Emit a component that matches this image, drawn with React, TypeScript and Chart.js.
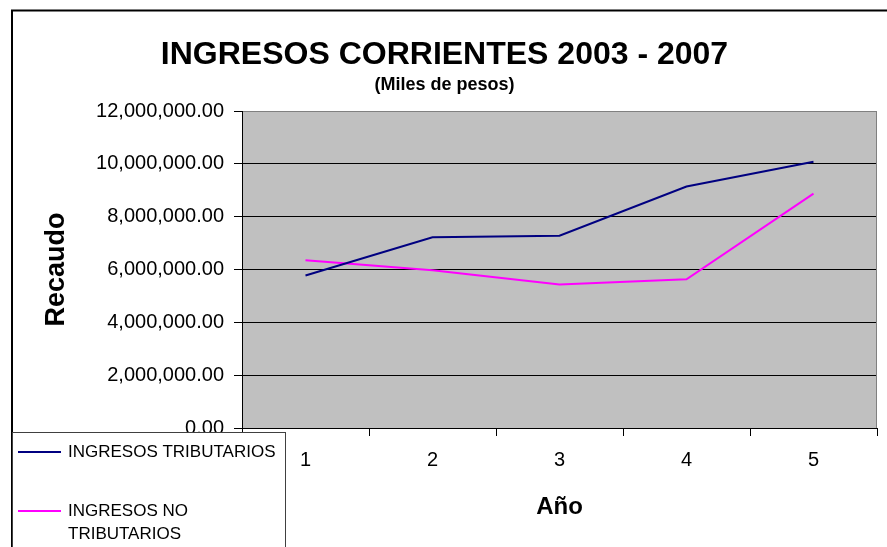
import React, { useEffect, useRef } from "react";
import { Chart, registerables } from "chart.js";

Chart.register(...registerables);

const TITLE = "INGRESOS CORRIENTES 2003 - 2007";
const SUBTITLE = "(Miles de pesos)";
const Y_TITLE = "Recaudo";
const X_TITLE = "Año";
const CATEGORIES = ["1", "2", "3", "4", "5"];
const SERIES_NAMES = ["INGRESOS TRIBUTARIOS", "INGRESOS NO TRIBUTARIOS"];
const TRIBUTARIOS = [5770000, 7220000, 7280000, 9140000, 10080000];
const NO_TRIBUTARIOS = [6350000, 5970000, 5430000, 5630000, 8870000];
const COLORS = ["#000080", "#FF00FF"];
const Y_MIN = 0;
const Y_MAX = 12000000;
const Y_STEP = 2000000;

const FONT = 'Arial, "Liberation Sans", sans-serif';

const framePlugin = {
  id: "frame",
  beforeDraw(chart: any) {
    const { ctx, chartArea } = chart;
    ctx.save();
    ctx.fillStyle = "#ffffff";
    ctx.fillRect(0, 0, chart.width, chart.height);
    ctx.fillStyle = "#C0C0C0";
    ctx.fillRect(chartArea.left, chartArea.top, chartArea.right - chartArea.left, chartArea.bottom - chartArea.top);
    ctx.strokeStyle = "#000000";
    ctx.lineWidth = 2;
    ctx.strokeRect(12, 10.5, chart.width + 20, chart.height + 20);
    ctx.restore();
  },
  afterDatasetsDraw(chart: any) {
    const { ctx, chartArea } = chart;
    ctx.save();
    ctx.strokeStyle = "#808080";
    ctx.lineWidth = 1;
    ctx.beginPath();
    ctx.moveTo(chartArea.right - 0.5, chartArea.top);
    ctx.lineTo(chartArea.right - 0.5, chartArea.bottom);
    ctx.stroke();
    ctx.restore();
  },
  afterDraw(chart: any) {
    const { ctx } = chart;
    ctx.save();
    // legend box
    ctx.fillStyle = "#ffffff";
    ctx.fillRect(12.5, 432.5, 273, 200);
    ctx.strokeStyle = "#404040";
    ctx.lineWidth = 1;
    ctx.strokeRect(12.5, 432.5, 273, 200);
    ctx.font = "17px " + FONT;
    ctx.fillStyle = "#000000";
    ctx.textBaseline = "middle";
    ctx.textAlign = "left";
    const rowYs = [452, 511];
    chart.data.datasets.forEach((ds: any, i: number) => {
      const y = rowYs[i];
      ctx.strokeStyle = ds.borderColor;
      ctx.lineWidth = 2;
      ctx.beginPath();
      ctx.moveTo(18, y);
      ctx.lineTo(61, y);
      ctx.stroke();
      const words = String(ds.label).split(" ");
      const lines: string[] = [];
      let cur = "";
      words.forEach((w) => {
        const test = cur ? cur + " " + w : w;
        if (ctx.measureText(test).width > 214 && cur) {
          lines.push(cur);
          cur = w;
        } else {
          cur = test;
        }
      });
      if (cur) lines.push(cur);
      lines.forEach((ln, j) => ctx.fillText(ln, 68, y + j * 23));
    });
    ctx.restore();
  },
};

export default function App() {
  const ref = useRef<HTMLCanvasElement | null>(null);
  useEffect(() => {
    if (!ref.current) return;
    const chart = new Chart(ref.current, {
      type: "line",
      data: {
        labels: CATEGORIES,
        datasets: [
          {
            label: SERIES_NAMES[0],
            data: TRIBUTARIOS,
            borderColor: COLORS[0],
            backgroundColor: COLORS[0],
            borderWidth: 2,
            pointRadius: 0,
            tension: 0,
          },
          {
            label: SERIES_NAMES[1],
            data: NO_TRIBUTARIOS,
            borderColor: COLORS[1],
            backgroundColor: COLORS[1],
            borderWidth: 2,
            pointRadius: 0,
            tension: 0,
          },
        ],
      },
      options: {
        animation: false,
        responsive: false,
        maintainAspectRatio: false,
        devicePixelRatio: 1,
        layout: { padding: { left: 12, top: 10, right: 10, bottom: 0 } },
        plugins: {
          legend: { display: false },
          tooltip: { enabled: false },
          title: {
            display: true,
            text: TITLE,
            color: "#000",
            font: { family: FONT, size: 32, weight: "bold", lineHeight: 1.2 },
            padding: { top: 26, bottom: 0 },
          },
          subtitle: {
            display: true,
            text: SUBTITLE,
            color: "#000",
            font: { family: FONT, size: 18, weight: "bold", lineHeight: 1.2 },
            padding: { top: 0, bottom: 15 },
          },
        },
        scales: {
          x: {
            type: "category",
            offset: true,
            grid: {
              display: true,
              offset: true,
              drawOnChartArea: false,
              drawTicks: true,
              tickLength: 8,
              color: "#000",
              lineWidth: 1,
            },
            border: { display: true, color: "#000", width: 1 },
            ticks: {
              color: "#000",
              font: { family: FONT, size: 20 },
              padding: 12,
              maxRotation: 0,
            },
            title: {
              display: true,
              text: X_TITLE,
              color: "#000",
              font: { family: FONT, size: 24, weight: "bold", lineHeight: 1.2 },
              padding: { top: 0, bottom: 25 },
            },
            afterFit(scale: any) {
              scale.height = 119;
            },
          },
          y: {
            min: Y_MIN,
            max: Y_MAX,
            grid: {
              color: (c: any) => (c.tick && c.tick.value === Y_MAX ? "#808080" : "#000"),
              tickColor: "#000",
              tickLength: 8,
              lineWidth: 1,
            },
            border: { display: true, color: "#000", width: 1 },
            ticks: {
              stepSize: Y_STEP,
              color: "#000",
              padding: 10,
              font: { family: FONT, size: 20 },
              callback: (v: any) =>
                Number(v).toLocaleString("en-US", { minimumFractionDigits: 2, maximumFractionDigits: 2 }),
            },
            title: {
              display: true,
              text: Y_TITLE,
              color: "#000",
              font: { family: FONT, size: 27, weight: "bold", lineHeight: 1.2 },
              padding: { top: 28, bottom: 0 },
            },
            afterFit(scale: any) {
              scale.width = 230;
            },
          },
        },
      },
      plugins: [framePlugin],
    } as any);
    return () => chart.destroy();
  }, []);
  return (
    <div style={{ position: "absolute", left: 0, top: 0, width: 887, height: 547 }}>
      <canvas ref={ref} width={887} height={547} style={{ width: 887, height: 547, display: "block" }} />
    </div>
  );
}
